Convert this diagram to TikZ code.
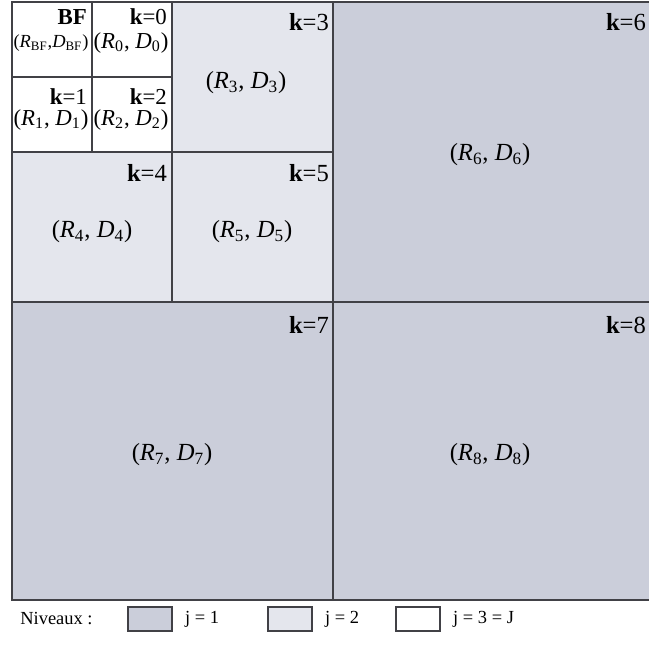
\documentclass[tikz,border=0pt]{standalone}
\usepackage{fontspec}
\setmainfont{Liberation Serif}
\usetikzlibrary{positioning}
\definecolor{niveauA}{RGB}{203,206,218}
\definecolor{niveauB}{RGB}{228,230,237}
\definecolor{trait}{RGB}{65,65,70}
\newcommand{\rdpair}[1]{(\textit{R}\textsubscript{#1}, \textit{D}\textsubscript{#1})}

\begin{document}
\begin{tikzpicture}[x=0.02cm, y=-0.02cm,
  cadre/.style={draw=trait, line width=0.75pt},
  klab/.style={anchor=east, inner sep=1pt, font=\fontsize{14}{16}\selectfont},
  kpetit/.style={klab, font=\fontsize{13}{15}\selectfont},
  paire/.style={inner sep=1pt, font=\fontsize{14}{16}\selectfont},
  pairepetit/.style={paire, font=\fontsize{13}{15}\selectfont},
  legende/.style={draw=trait, line width=0.6pt, minimum width=0.88cm,
    minimum height=0.48cm, inner sep=0pt},
  legtxt/.style={font=\fontsize{10.5}{12}\selectfont, inner sep=0pt},
]
\clip (0,0) rectangle (649,649);
\useasboundingbox (0,0) rectangle (649,649);
% fonds des trois niveaux
\fill[white] (0,0) rectangle (649,649);
\fill[niveauA] (12,2) rectangle (660,600);
\fill[niveauB] (12,2) rectangle (333,302);
\fill[white] (12,2) rectangle (172,152);
% decoupage
\draw[cadre] (12,2) rectangle (660,600);
\draw[cadre] (333,2) -- (333,600);
\draw[cadre] (12,302) -- (660,302);
\draw[cadre] (172,2) -- (172,302);
\draw[cadre] (12,152) -- (333,152);
\draw[cadre] (92,2) -- (92,152);
\draw[cadre] (12,77) -- (172,77);

% niveau j=3
\node[kpetit] (kbf) at (89,17) {\textbf{BF}};
\node[inner sep=0pt, font=\fontsize{10.5}{12}\selectfont] (pbf) at (51,43)
  {(\textit{R}\textsubscript{BF},\textit{D}\textsubscript{BF})};
\node[kpetit] (k0) at (169,17) {\textbf{k}=0};
\node[pairepetit] (p0) at (131,43) {\rdpair{0}};
\node[kpetit] (k1) at (89,97) {\textbf{k}=1};
\node[pairepetit] (p1) at (51,120) {\rdpair{1}};
\node[kpetit] (k2) at (169,97) {\textbf{k}=2};
\node[pairepetit] (p2) at (131,120) {\rdpair{2}};
% niveau j=2
\node[klab] (k3) at (331,22) {\textbf{k}=3};
\node[paire] (p3) at (246,83) {\rdpair{3}};
\node[klab] (k4) at (169,173) {\textbf{k}=4};
\node[paire] (p4) at (92,232) {\rdpair{4}};
\node[klab] (k5) at (331,173) {\textbf{k}=5};
\node[paire] (p5) at (252,232) {\rdpair{5}};
% niveau j=1
\node[klab] (k6) at (648,22) {\textbf{k}=6};
\node[paire] (p6) at (490,155) {\rdpair{6}};
\node[klab] (k7) at (331,325) {\textbf{k}=7};
\node[paire] (p7) at (172,455) {\rdpair{7}};
\node[klab] (k8) at (648,325) {\textbf{k}=8};
\node[paire] (p8) at (490,455) {\rdpair{8}};

% legende
\node[legtxt, anchor=west] (niv) at (20,619) {Niveaux :};
\node[legende, fill=niveauA] (leg1) at (150,619) {};
\node[legtxt, right=7pt of leg1] (j1) {j = 1};
\node[legende, fill=niveauB] (leg2) at (290,619) {};
\node[legtxt, right=7pt of leg2] (j2) {j = 2};
\node[legende, fill=white] (leg3) at (418,619) {};
\node[legtxt, right=7pt of leg3] (j3) {j = 3 = J};
\end{tikzpicture}
\end{document}
